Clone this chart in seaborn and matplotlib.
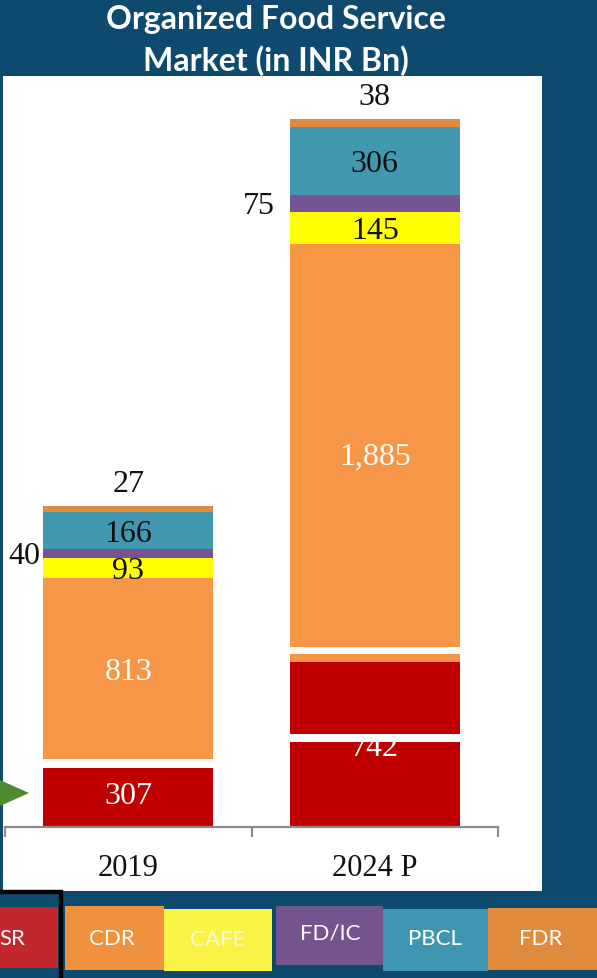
import matplotlib
matplotlib.use("Agg")
import matplotlib.pyplot as plt
import seaborn as sns
import pandas as pd
from matplotlib.patches import Rectangle, Polygon

# ---- data (INR Bn) ----
years = ["2019", "2024 P"]
segments = ["SR", "CDR", "CAFE", "FD/IC", "PBCL", "FDR"]
sr = [307, 742]
cdr = [813, 1885]
cafe = [93, 145]
fdic = [40, 75]
pbcl = [166, 306]
fdr = [27, 38]

# white separator bands drawn across the bars (year, lower, upper in INR Bn)
band_year = ["2019", "2024 P", "2024 P"]
band_lo = [266, 383, 779]
band_hi = [307, 419, 811]

bar_colors = {"SR": "#c00000", "CDR": "#f79646", "CAFE": "#ffff00",
              "FD/IC": "#765493", "PBCL": "#4198b0", "FDR": "#e0893f"}
legend_colors = {"SR": "#c1272d", "CDR": "#f0913e", "CAFE": "#f9f347",
                 "FD/IC": "#73548f", "PBCL": "#4096b0", "FDR": "#e08a3c"}

sns.set_theme(style="white")
plt.rcParams["font.family"] = ["Lato", "DejaVu Sans"]

W, H = 597, 979
BG = "#0d4a6e"
fig = plt.figure(figsize=(W / 100, H / 100), dpi=100, facecolor=BG)


def fx(px):
    return px / W


def fy(py):
    return 1 - py / H


# white chart panel
fig.add_artist(Rectangle((fx(3), fy(892)), (542 - 3) / W, (892 - 77) / H,
                         transform=fig.transFigure, facecolor="white",
                         edgecolor="none", zorder=-2))

ax = fig.add_axes([fx(5), fy(828), (498 - 5) / W, (828 - 77) / H])
ax.set_facecolor("none")

df = pd.DataFrame({"year": years, "SR": sr, "CDR": cdr, "CAFE": cafe,
                   "FD/IC": fdic, "PBCL": pbcl, "FDR": fdr})
cum = df[segments].cumsum(axis=1)
bottoms = cum - df[segments]

BAR_W = 0.69
# stacked bars: draw cumulative totals from the top segment down
for seg in reversed(segments):
    sns.barplot(x=df["year"], y=cum[seg], color=bar_colors[seg], width=BAR_W,
                saturation=1, errorbar=None, edgecolor="none", linewidth=0,
                ax=ax)

# white separator bands
bx = [years.index(y) for y in band_year]
ax.bar(bx, [h - l for l, h in zip(band_lo, band_hi)], bottom=band_lo,
       width=BAR_W, color="white", edgecolor="none", zorder=3)

ax.set_xlim(-0.5, 1.5)
ax.set_ylim(0, 3383)

serif = "Liberation Serif"
LBL = 23
inside = {"SR": "white", "CDR": "white", "CAFE": "#111111", "PBCL": "#111111"}
for i in range(len(years)):
    for seg, col in inside.items():
        v = df.loc[i, seg]
        yc = bottoms.loc[i, seg] + v / 2
        ax.annotate(f"{v:,}", xy=(i, yc), xytext=(0, -2),
                    textcoords="offset points", ha="center", va="center",
                    color=col, fontsize=LBL, family=serif, zorder=5)
    # FDR value above the bar
    ax.annotate(f"{df.loc[i, 'FDR']:,}", xy=(i, cum.loc[i, 'FDR']),
                xytext=(0, 16), textcoords="offset points", ha="center",
                va="center", color="#111111", fontsize=LBL, family=serif)
    # FD/IC value to the left of the bar
    fd_off = [-2, -11][i]
    ax.annotate(f"{df.loc[i, 'FD/IC']:,}",
                xy=(i - BAR_W / 2, bottoms.loc[i, 'FD/IC'] + df.loc[i, 'FD/IC'] / 2),
                xytext=(fd_off, -1.5), textcoords="offset points", ha="right",
                va="center", color="#111111", fontsize=LBL, family=serif)

# axes styling
for s in ["left", "right", "top"]:
    ax.spines[s].set_visible(False)
ax.spines["bottom"].set_color("#8c8c8c")
ax.spines["bottom"].set_linewidth(1.6)
ax.set_yticks([])
ax.set_ylabel("")
ax.set_xlabel("")
ax.set_xticks([0, 1])
ax.set_xticklabels(years, family=serif, fontsize=22, color="#111111")
ax.set_xticks([-0.5, 0.5, 1.5], minor=True)
ax.tick_params(axis="x", which="major", length=0, pad=19)
ax.tick_params(axis="x", which="minor", bottom=True, length=7, width=1.6,
               color="#8c8c8c", direction="out")
ax.grid(False)

# title
fig.text(fx(276), fy(19), "Organized Food Service", ha="center", va="center",
         color="white", fontsize=23, fontweight="bold")
fig.text(fx(276), fy(61), "Market (in INR Bn)", ha="center", va="center",
         color="white", fontsize=23, fontweight="bold")

# green pointer arrow at the left edge
fig.add_artist(Polygon([(fx(0), fy(781)), (fx(29), fy(794)), (fx(0), fy(807))],
                       closed=True, transform=fig.transFigure,
                       facecolor="#4e8a2e", edgecolor="none"))

# segment key along the bottom
key_boxes = {"SR": (-5, 58, 908, 969), "CDR": (65, 164, 907, 971),
             "CAFE": (164, 272, 910, 972), "FD/IC": (276, 383, 907, 966),
             "PBCL": (383, 488, 910, 972), "FDR": (488, 600, 909, 971)}
key_text_x = {"SR": 12, "CDR": 112, "CAFE": 218, "FD/IC": 330,
              "PBCL": 435, "FDR": 541}
key_text_y = {"SR": 939, "CDR": 939, "CAFE": 940, "FD/IC": 934,
              "PBCL": 939, "FDR": 939}
for seg in segments:
    x0, x1, y0, y1 = key_boxes[seg]
    fig.add_artist(Rectangle((fx(x0), fy(y1)), (x1 - x0) / W, (y1 - y0) / H,
                             transform=fig.transFigure,
                             facecolor=legend_colors[seg], edgecolor="none"))
    tcol = "#fafad2" if seg == "CAFE" else "white"
    fig.text(fx(key_text_x[seg]), fy(key_text_y[seg]), seg, ha="center",
             va="center", color=tcol, fontsize=16)

# black selection frame around the first key box
fig.add_artist(Rectangle((fx(-8), fy(990)), (61 + 8) / W, (990 - 893) / H,
                         transform=fig.transFigure, facecolor="none",
                         edgecolor="black", linewidth=3.2))

fig.savefig("out.png", dpi=100, facecolor=BG)
